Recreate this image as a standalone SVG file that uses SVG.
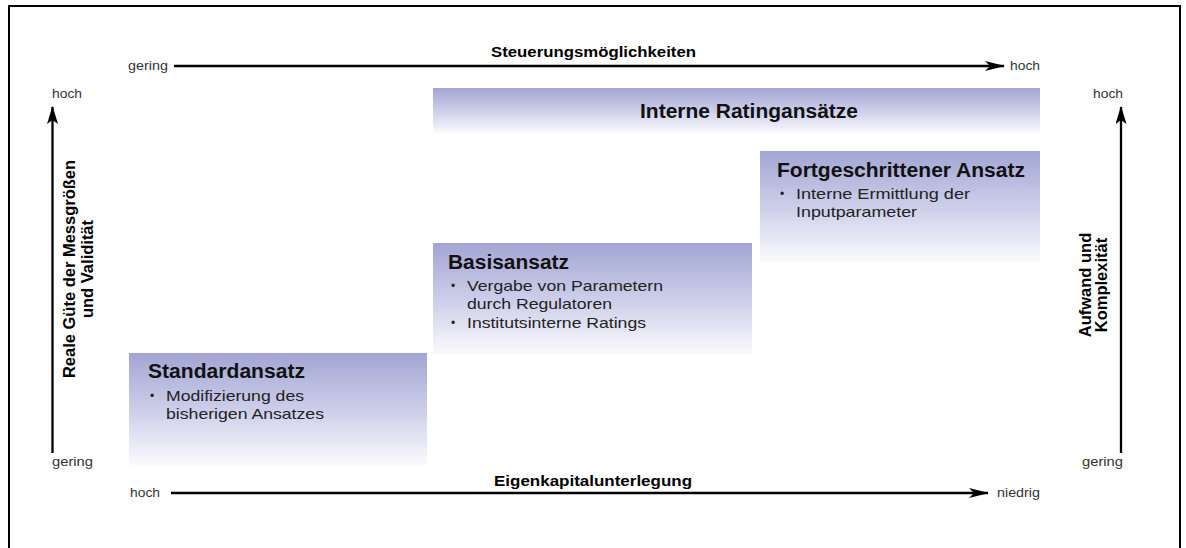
<svg xmlns="http://www.w3.org/2000/svg" width="1186" height="548" viewBox="0 0 1186 548">
  <defs>
    <linearGradient id="boxGrad" x1="0" y1="0" x2="0" y2="1">
      <stop offset="0" stop-color="#a2a5d3"/>
      <stop offset="0.55" stop-color="#d0d2eb"/>
      <stop offset="1" stop-color="#fafafd"/>
    </linearGradient>
    <marker id="arrowH" markerUnits="userSpaceOnUse" viewBox="0 0 20 10" refX="19" refY="5" markerWidth="20" markerHeight="10" orient="auto">
      <path d="M0,0 L20,5 L0,10 L5,5 z" fill="#000"/>
    </marker>
    <marker id="arrowV" markerUnits="userSpaceOnUse" viewBox="0 0 18 11" refX="17" refY="5.5" markerWidth="18" markerHeight="11" orient="auto">
      <path d="M0,0 L18,5.5 L0,11 L4,5.5 z" fill="#000"/>
    </marker>
  </defs>
  <style>
    .frame { fill: none; stroke: #000; stroke-width: 2; }
    .box { fill: url(#boxGrad); }
    .axis { stroke: #000; stroke-width: 2.3; fill: none; }
    .small { font-family: "Liberation Sans", Arial, sans-serif; font-size: 12px; fill: #333; }
    .axlabel { font-family: "Liberation Sans", Arial, sans-serif; font-size: 14px; font-weight: bold; fill: #000; }
    .vlabel { font-family: "Liberation Sans", Arial, sans-serif; font-size: 16.5px; font-weight: bold; fill: #000; text-anchor: middle; }
    .title { font-family: "Liberation Sans", Arial, sans-serif; font-size: 19.5px; font-weight: bold; fill: #111; }
    .item { font-family: "Liberation Sans", Arial, sans-serif; font-size: 14.5px; fill: #222; }
    .bullet { font-family: "Liberation Sans", Arial, sans-serif; font-size: 12px; fill: #222; }
  </style>
  <rect width="1186" height="548" fill="#fff"/>
  <rect class="frame" x="9" y="6" width="1171" height="600"/>

  <g id="connectors">
    <path class="axis" d="M174,66 L1004,66" marker-end="url(#arrowH)"/>
    <path class="axis" d="M171,493 L988,493" marker-end="url(#arrowH)"/>
    <path class="axis" d="M52.5,453 L52.5,107" marker-end="url(#arrowV)"/>
    <path class="axis" d="M1121,453 L1121,107" marker-end="url(#arrowV)"/>
  </g>

  <g id="axis-top">
    <text class="small" x="128" y="70" textLength="40" lengthAdjust="spacingAndGlyphs">gering</text>
    <text class="axlabel" x="491" y="57" textLength="205" lengthAdjust="spacingAndGlyphs">Steuerungsmöglichkeiten</text>
    <text class="small" x="1010" y="70" textLength="30" lengthAdjust="spacingAndGlyphs">hoch</text>
  </g>
  <g id="axis-bottom">
    <text class="small" x="130" y="497" textLength="30" lengthAdjust="spacingAndGlyphs">hoch</text>
    <text class="axlabel" x="494" y="486" textLength="198" lengthAdjust="spacingAndGlyphs">Eigenkapitalunterlegung</text>
    <text class="small" x="997" y="497" textLength="43" lengthAdjust="spacingAndGlyphs">niedrig</text>
  </g>
  <g id="axis-left">
    <text class="small" x="52" y="98" textLength="30" lengthAdjust="spacingAndGlyphs">hoch</text>
    <text class="small" x="52" y="466" textLength="41" lengthAdjust="spacingAndGlyphs">gering</text>
    <text class="vlabel" transform="translate(75,269) rotate(-90)">Reale Güte der Messgrößen</text>
    <text class="vlabel" transform="translate(93,269) rotate(-90)">und Validität</text>
  </g>
  <g id="axis-right">
    <text class="small" x="1093" y="98" textLength="30" lengthAdjust="spacingAndGlyphs">hoch</text>
    <text class="small" x="1082" y="466" textLength="41" lengthAdjust="spacingAndGlyphs">gering</text>
    <text class="vlabel" transform="translate(1091,285) rotate(-90)">Aufwand und</text>
    <text class="vlabel" transform="translate(1107,285) rotate(-90)">Komplexität</text>
  </g>

  <g id="node-interne-ratingansaetze">
    <rect class="box" x="433" y="88" width="607" height="45"/>
    <text class="title" x="640" y="118" font-size="20.5" textLength="218" lengthAdjust="spacingAndGlyphs">Interne Ratingansätze</text>
  </g>

  <g id="node-standardansatz">
    <rect class="box" x="129" y="353" width="298" height="112"/>
    <text class="title" x="148" y="378" textLength="157" lengthAdjust="spacingAndGlyphs">Standardansatz</text>
    <text class="bullet" x="150" y="400">•</text>
    <text class="item" x="166" y="401" textLength="138" lengthAdjust="spacingAndGlyphs">Modifizierung des</text>
    <text class="item" x="166" y="419" textLength="158" lengthAdjust="spacingAndGlyphs">bisherigen Ansatzes</text>
  </g>

  <g id="node-basisansatz">
    <rect class="box" x="433" y="243" width="319" height="112"/>
    <text class="title" x="448" y="269" textLength="121" lengthAdjust="spacingAndGlyphs">Basisansatz</text>
    <text class="bullet" x="451" y="290">•</text>
    <text class="item" x="467" y="291" textLength="196" lengthAdjust="spacingAndGlyphs">Vergabe von Parametern</text>
    <text class="item" x="467" y="309" textLength="145" lengthAdjust="spacingAndGlyphs">durch Regulatoren</text>
    <text class="bullet" x="451" y="327">•</text>
    <text class="item" x="467" y="328" textLength="179" lengthAdjust="spacingAndGlyphs">Institutsinterne Ratings</text>
  </g>

  <g id="node-fortgeschrittener-ansatz">
    <rect class="box" x="760" y="151" width="280" height="111"/>
    <text class="title" x="777" y="177" textLength="248" lengthAdjust="spacingAndGlyphs">Fortgeschrittener Ansatz</text>
    <text class="bullet" x="780" y="198">•</text>
    <text class="item" x="796" y="199" textLength="174" lengthAdjust="spacingAndGlyphs">Interne Ermittlung der</text>
    <text class="item" x="796" y="217" textLength="121" lengthAdjust="spacingAndGlyphs">Inputparameter</text>
  </g>
</svg>
